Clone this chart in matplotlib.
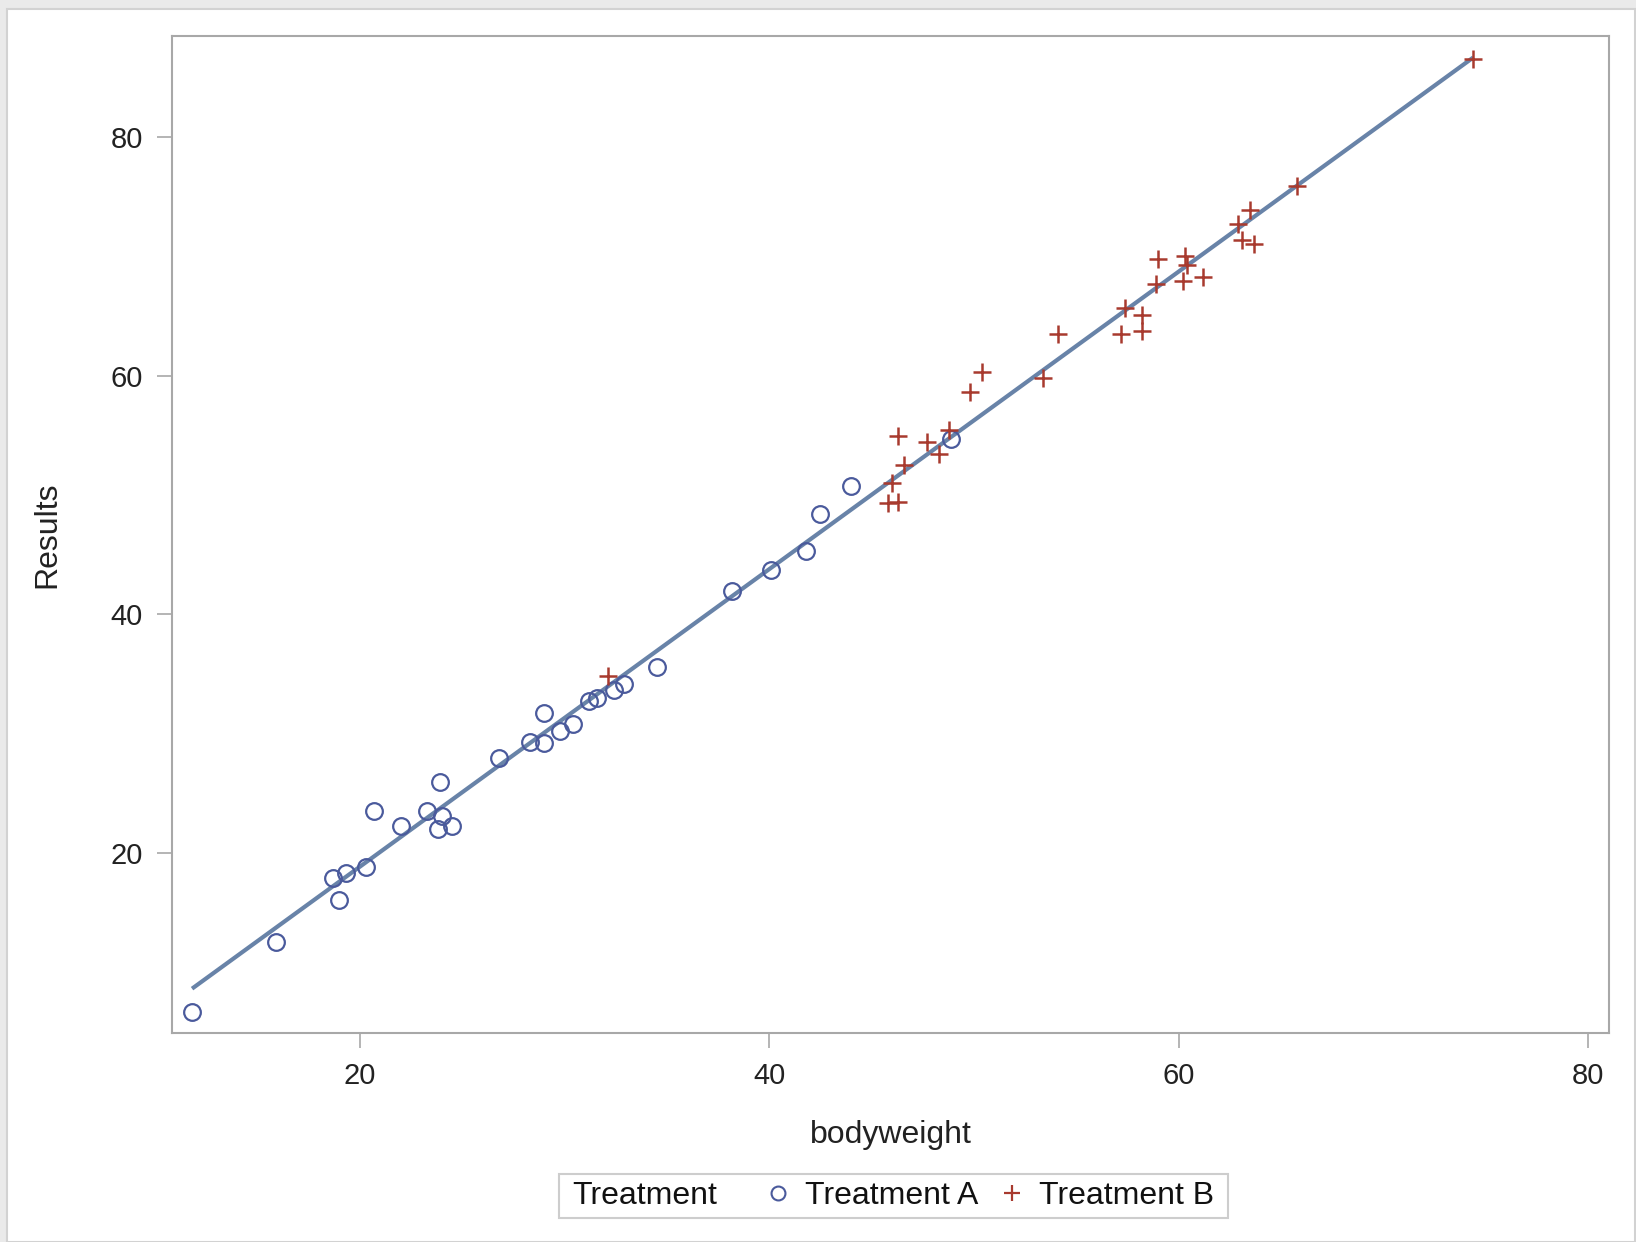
import numpy as np
import matplotlib.pyplot as plt
from matplotlib.lines import Line2D
from matplotlib.patches import Rectangle

plt.rcParams['font.family'] = ['Liberation Sans', 'DejaVu Sans']

# ---- data ----
a_bodyweight = [11.8, 15.9, 18.7, 19.0, 19.3, 20.3, 20.7, 22.0, 23.3, 23.9,
                23.8, 24.0, 24.5, 26.8, 28.3, 29.0, 29.0, 29.8, 30.4, 31.2,
                31.6, 32.4, 32.9, 34.5, 38.2, 40.1, 41.8, 42.5, 44.0, 48.9]
a_results = [6.6, 12.5, 17.9, 16.0, 18.3, 18.8, 23.5, 22.2, 23.5, 25.9,
             22.0, 23.1, 22.2, 27.9, 29.3, 31.7, 29.2, 30.2, 30.8, 32.7,
             33.0, 33.6, 34.1, 35.6, 41.9, 43.7, 45.3, 48.4, 50.7, 54.7]

b_bodyweight = [32.1, 45.8, 46.3, 46.0, 46.6, 46.3, 47.7, 48.3, 48.8, 49.8,
                50.4, 53.4, 54.1, 57.2, 57.4, 58.2, 58.2, 58.9, 59.0, 60.2,
                60.3, 60.4, 61.2, 62.9, 63.1, 63.5, 63.7, 65.8, 74.4]
b_results = [34.8, 49.3, 49.4, 51.0, 52.5, 54.9, 54.4, 53.4, 55.4, 58.6,
             60.3, 59.8, 63.5, 63.5, 65.7, 63.7, 65.1, 67.7, 69.8, 67.9,
             70.0, 69.3, 68.3, 72.7, 71.4, 73.9, 71.0, 75.9, 86.5]

x_ticks = [20, 40, 60, 80]
y_ticks = [20, 40, 60, 80]

col_a = '#4A5A9C'
col_b = '#A83A2E'
col_fit = '#6883A8'
col_frame = '#A8A8A8'

W, H = 1636, 1242

# ---- figure ----
fig = plt.figure(figsize=(W / 100, H / 100), dpi=100, facecolor='#EAEAEA')
fig.patches.append(Rectangle((7 / W, 0), 1628 / W, 1 - 9 / H,
                             transform=fig.transFigure, facecolor='white',
                             edgecolor='#D2D2D2', linewidth=1.5, zorder=-10))

ax = fig.add_axes([172 / W, 1 - 1033 / H, 1437 / W, 997 / H])

# regression fit over all points
xs = np.array(a_bodyweight + b_bodyweight)
ys = np.array(a_results + b_results)
slope, icpt = np.polyfit(xs, ys, 1)
xl = np.array([xs.min(), xs.max()])
ax.plot(xl, icpt + slope * xl, color=col_fit, linewidth=3.0, zorder=2,
        solid_capstyle='butt')

ax.plot(a_bodyweight, a_results, linestyle='none', marker='o', markersize=12,
        markerfacecolor='none', markeredgecolor=col_a, markeredgewidth=1.6, zorder=3)
ax.plot(b_bodyweight, b_results, linestyle='none', marker='+', markersize=13,
        markeredgecolor=col_b, markeredgewidth=1.8, zorder=3)

ax.set_xlim(10.82, 81.03)
ax.set_ylim(4.87, 88.47)
ax.set_xticks(x_ticks)
ax.set_yticks(y_ticks)

for spine in ax.spines.values():
    spine.set_color(col_frame)
    spine.set_linewidth(1.5)

ax.tick_params(direction='out', length=11, width=1.2, color=col_frame,
               labelsize=21, labelcolor='#222222', pad=10)

ax.set_xlabel('bodyweight', fontsize=23, color='#222222')
ax.set_ylabel('Results', fontsize=23, color='#222222')
ax.xaxis.set_label_coords(0.5, -0.087)
ax.yaxis.set_label_coords(-0.076, 0.5)

# ---- legend: "Treatment" title to the left of the entries, one frame ----
leg_y = 1 - 1196 / H
title = fig.text(572 / W, leg_y, 'Treatment', fontsize=23, color='#111111',
                 ha='left', va='center')

handles = [
    Line2D([], [], linestyle='none', marker='o', markersize=10,
           markerfacecolor='none', markeredgecolor=col_a, markeredgewidth=1.5),
    Line2D([], [], linestyle='none', marker='+', markersize=12,
           markeredgecolor=col_b, markeredgewidth=1.6),
]
labels = ['Treatment A', 'Treatment B']
leg = fig.legend(handles, labels, loc='center left',
                 bbox_to_anchor=(765 / W, leg_y), ncol=2, fontsize=23,
                 frameon=False, handlelength=0.8, handletextpad=0.44,
                 columnspacing=0.66, borderpad=0, borderaxespad=0)
for t in leg.get_texts():
    t.set_color('#111111')

fig.canvas.draw()
r = fig.canvas.get_renderer()
tb = title.get_window_extent(r)
lb = leg.get_window_extent(r)
x0 = tb.x0 - 13
x1 = lb.x1 + 14
y_mid = leg_y * H
fig.patches.append(Rectangle((x0 / W, (y_mid - 22) / H), (x1 - x0) / W, 44 / H,
                             transform=fig.transFigure, facecolor='white',
                             edgecolor='#CDCDCD', linewidth=1.5, zorder=-5))

plt.savefig('out.png', dpi=100, facecolor=fig.get_facecolor())
